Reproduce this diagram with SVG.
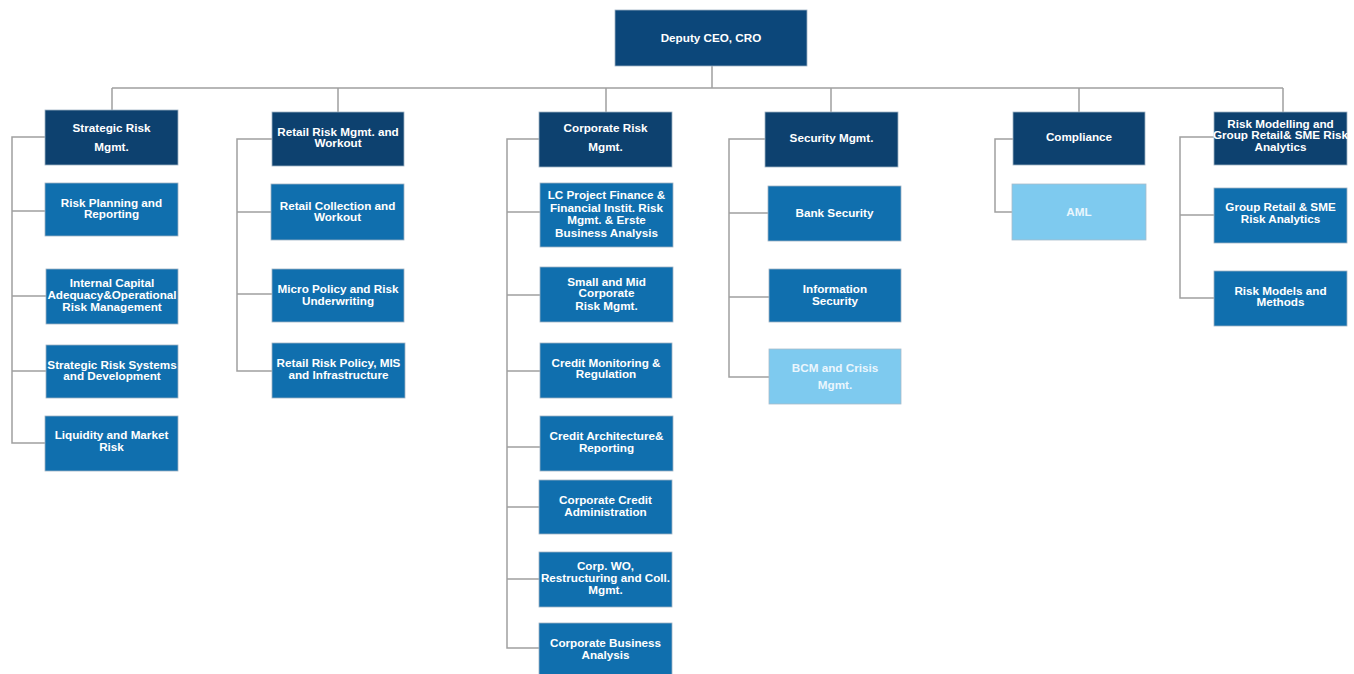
<svg xmlns="http://www.w3.org/2000/svg" width="1354" height="674" viewBox="0 0 1354 674">
<style>
.bg{fill:#ffffff}
.top{fill:#0c477a;stroke:#9fb2c4;stroke-width:0.8}
.hd{fill:#0d416f;stroke:#9fb2c4;stroke-width:0.8}
.ch{fill:#106fae;stroke:#9fb2c4;stroke-width:0.8}
.lt{fill:#7ecaef;stroke:#a9bccb;stroke-width:0.8}
text{font-family:"Liberation Sans",Arial,sans-serif;font-weight:bold;font-size:11.7px;fill:#ffffff;text-anchor:middle}
.ltx{fill:#eaf6fd}
.con{fill:none;stroke:#a0a0a0;stroke-width:1.5}
</style>
<rect class="bg" x="0" y="0" width="1354" height="674"/>
<g id="connectors">
<path class="con" d="M712 66V88M112 88H1283M112 88V110M338 88V112M606 88V112M831 88V112M1079 88V112M1283 88V112"/>
<path class="con" d="M45 137H12V443H45M12 211H45M12 296H46M12 371H46"/>
<path class="con" d="M272 139H237V371H272M237 212H271M237 294H272"/>
<path class="con" d="M539 139H507V648H539M507 212H540M507 295H540M507 371H540M507 447H540M507 507H539M507 579H539"/>
<path class="con" d="M765 139H729V377H769M729 213H768M729 297H769"/>
<path class="con" d="M1013 139H995V212H1012"/>
<path class="con" d="M1214 137H1180V298H1214M1180 215H1214"/>
</g>
<g id="n-cro"><rect class="top" x="615" y="10" width="192" height="56"/><text x="711" y="42">Deputy CEO, CRO</text></g>

<g id="n-strategic"><rect class="hd" x="45" y="110" width="133" height="55"/><text x="111.5" y="132">Strategic Risk</text><text x="111.5" y="151">Mgmt.</text></g>
<g id="n-riskplanning"><rect class="ch" x="45" y="183" width="133" height="53"/><text x="111.5" y="207">Risk Planning and</text><text x="111.5" y="218">Reporting</text></g>
<g id="n-icaap"><rect class="ch" x="46" y="269" width="132" height="55"/><text x="112" y="287">Internal Capital</text><text x="112" y="299">Adequacy&amp;Operational</text><text x="112" y="311">Risk Management</text></g>
<g id="n-srsd"><rect class="ch" x="46" y="345" width="132" height="53"/><text x="112" y="369">Strategic Risk Systems</text><text x="112" y="380">and Development</text></g>
<g id="n-liquidity"><rect class="ch" x="45" y="416" width="133" height="55"/><text x="111.5" y="439">Liquidity and Market</text><text x="111.5" y="451">Risk</text></g>

<g id="n-retail"><rect class="hd" x="272" y="112" width="132" height="54"/><text x="338" y="136">Retail Risk Mgmt. and</text><text x="338" y="147">Workout</text></g>
<g id="n-retailcoll"><rect class="ch" x="271" y="184" width="133" height="56"/><text x="337.5" y="210">Retail Collection and</text><text x="337.5" y="221">Workout</text></g>
<g id="n-micro"><rect class="ch" x="272" y="269" width="132" height="53"/><text x="338" y="293">Micro Policy and Risk</text><text x="338" y="305">Underwriting</text></g>
<g id="n-retailpolicy"><rect class="ch" x="272" y="343" width="133" height="55"/><text x="338.5" y="367">Retail Risk Policy, MIS</text><text x="338.5" y="379">and Infrastructure</text></g>

<g id="n-corporate"><rect class="hd" x="539" y="112" width="133" height="55"/><text x="605.5" y="132">Corporate Risk</text><text x="605.5" y="151">Mgmt.</text></g>
<g id="n-lcproject"><rect class="ch" x="540" y="183" width="133" height="64"/><text x="606.5" y="199">LC Project Finance &amp;</text><text x="606.5" y="212">Financial Instit. Risk</text><text x="606.5" y="224">Mgmt. &amp; Erste</text><text x="606.5" y="237">Business Analysis</text></g>
<g id="n-smallmid"><rect class="ch" x="540" y="267" width="133" height="55"/><text x="606.5" y="286">Small and Mid</text><text x="606.5" y="297">Corporate</text><text x="606.5" y="310">Risk Mgmt.</text></g>
<g id="n-creditmon"><rect class="ch" x="540" y="343" width="132" height="55"/><text x="606" y="367">Credit Monitoring &amp;</text><text x="606" y="378">Regulation</text></g>
<g id="n-creditarch"><rect class="ch" x="540" y="416" width="133" height="55"/><text x="606.5" y="440">Credit Architecture&amp;</text><text x="606.5" y="452">Reporting</text></g>
<g id="n-corpcredit"><rect class="ch" x="539" y="480" width="133" height="54"/><text x="605.5" y="504">Corporate Credit</text><text x="605.5" y="516">Administration</text></g>
<g id="n-corpwo"><rect class="ch" x="539" y="552" width="133" height="55"/><text x="605.5" y="570">Corp. WO,</text><text x="605.5" y="582">Restructuring and Coll.</text><text x="605.5" y="594">Mgmt.</text></g>
<g id="n-corpbus"><rect class="ch" x="539" y="623" width="133" height="55"/><text x="605.5" y="647">Corporate Business</text><text x="605.5" y="659">Analysis</text></g>

<g id="n-security"><rect class="hd" x="765" y="112" width="133" height="55"/><text x="831.5" y="142">Security Mgmt.</text></g>
<g id="n-banksec"><rect class="ch" x="768" y="186" width="133" height="55"/><text x="834.5" y="217">Bank  Security</text></g>
<g id="n-infosec"><rect class="ch" x="769" y="269" width="132" height="53"/><text x="835" y="293">Information</text><text x="835" y="305">Security</text></g>
<g id="n-bcm"><rect class="lt" x="769" y="349" width="132" height="55"/><text class="ltx" x="835" y="372">BCM  and Crisis</text><text class="ltx" x="835" y="389">Mgmt.</text></g>

<g id="n-compliance"><rect class="hd" x="1013" y="112" width="132" height="53"/><text x="1079" y="141">Compliance</text></g>
<g id="n-aml"><rect class="lt" x="1012" y="184" width="134" height="56"/><text class="ltx" x="1079" y="216">AML</text></g>

<g id="n-riskmodelling"><rect class="hd" x="1214" y="112" width="133" height="53"/><text x="1280.5" y="128">Risk Modelling and</text><text x="1280.5" y="139">Group Retail&amp; SME Risk</text><text x="1280.5" y="151">Analytics</text></g>
<g id="n-groupretail"><rect class="ch" x="1214" y="188" width="133" height="55"/><text x="1280.5" y="211">Group Retail &amp;  SME</text><text x="1280.5" y="223">Risk Analytics</text></g>
<g id="n-riskmodels"><rect class="ch" x="1214" y="271" width="133" height="55"/><text x="1280.5" y="295">Risk Models and</text><text x="1280.5" y="306">Methods</text></g>
</svg>
